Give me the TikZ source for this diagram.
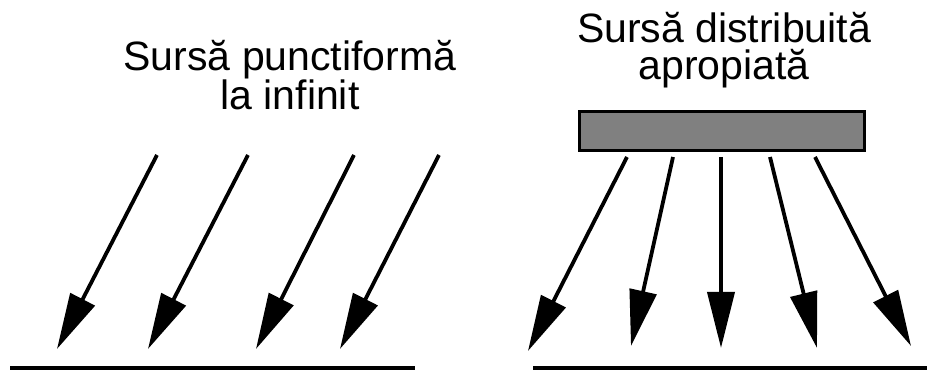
\documentclass[tikz,border=0pt]{standalone}
\usepackage{fontspec}
\setmainfont{Liberation Sans}
\usetikzlibrary{arrows.meta,positioning}
\tikzset{
  ray/.style={line width=3.8pt, -{Triangle[length=56pt,width=27pt]}},
  ground/.style={line width=3.8pt},
  lamp/.style={draw, line width=3pt, fill=gray, inner sep=0pt,
               minimum width=285pt, minimum height=39pt},
  caption/.style={align=center, inner sep=0pt,
                  font=\fontsize{41}{37}\selectfont},
}
\begin{document}
\begin{tikzpicture}[x=1pt, y=-1pt]
    \useasboundingbox (0,0) rectangle (927,374);
    % left: point source at infinity
    \node[caption, anchor=base] (inf) at (290,110) {Sursă punctiformă\\la infinit};
    \foreach \i/\s/\t in {1/157/57, 2/248/148, 3/354/256, 4/439/340} {
      \coordinate (ls\i) at (\s,155);
      \coordinate (lt\i) at (\t,349);
      \draw[ray] (ls\i) -- (lt\i);
    }
    \coordinate (lg1) at (10,368);
    \coordinate (lg2) at (415,368);
    \draw[ground] (lg1) -- (lg2);
    % right: near distributed source
    \node[caption, anchor=base] (near) at (724,80) {Sursă distribuită\\apropiată};
    \node[lamp] (src) at (722,131) {};
    \foreach \i/\s/\t/\y in {1/627/528/351, 2/673/631/346, 3/721/721/348, 4/770/817/348, 5/815/911/346} {
      \coordinate (rs\i) at (\s,157);
      \coordinate (rt\i) at (\t,\y);
      \draw[ray] (rs\i) -- (rt\i);
    }
    \coordinate (rg1) at (533,368);
    \coordinate (rg2) at (927,368);
    \draw[ground] (rg1) -- (rg2);
  \end{tikzpicture}
\end{document}
